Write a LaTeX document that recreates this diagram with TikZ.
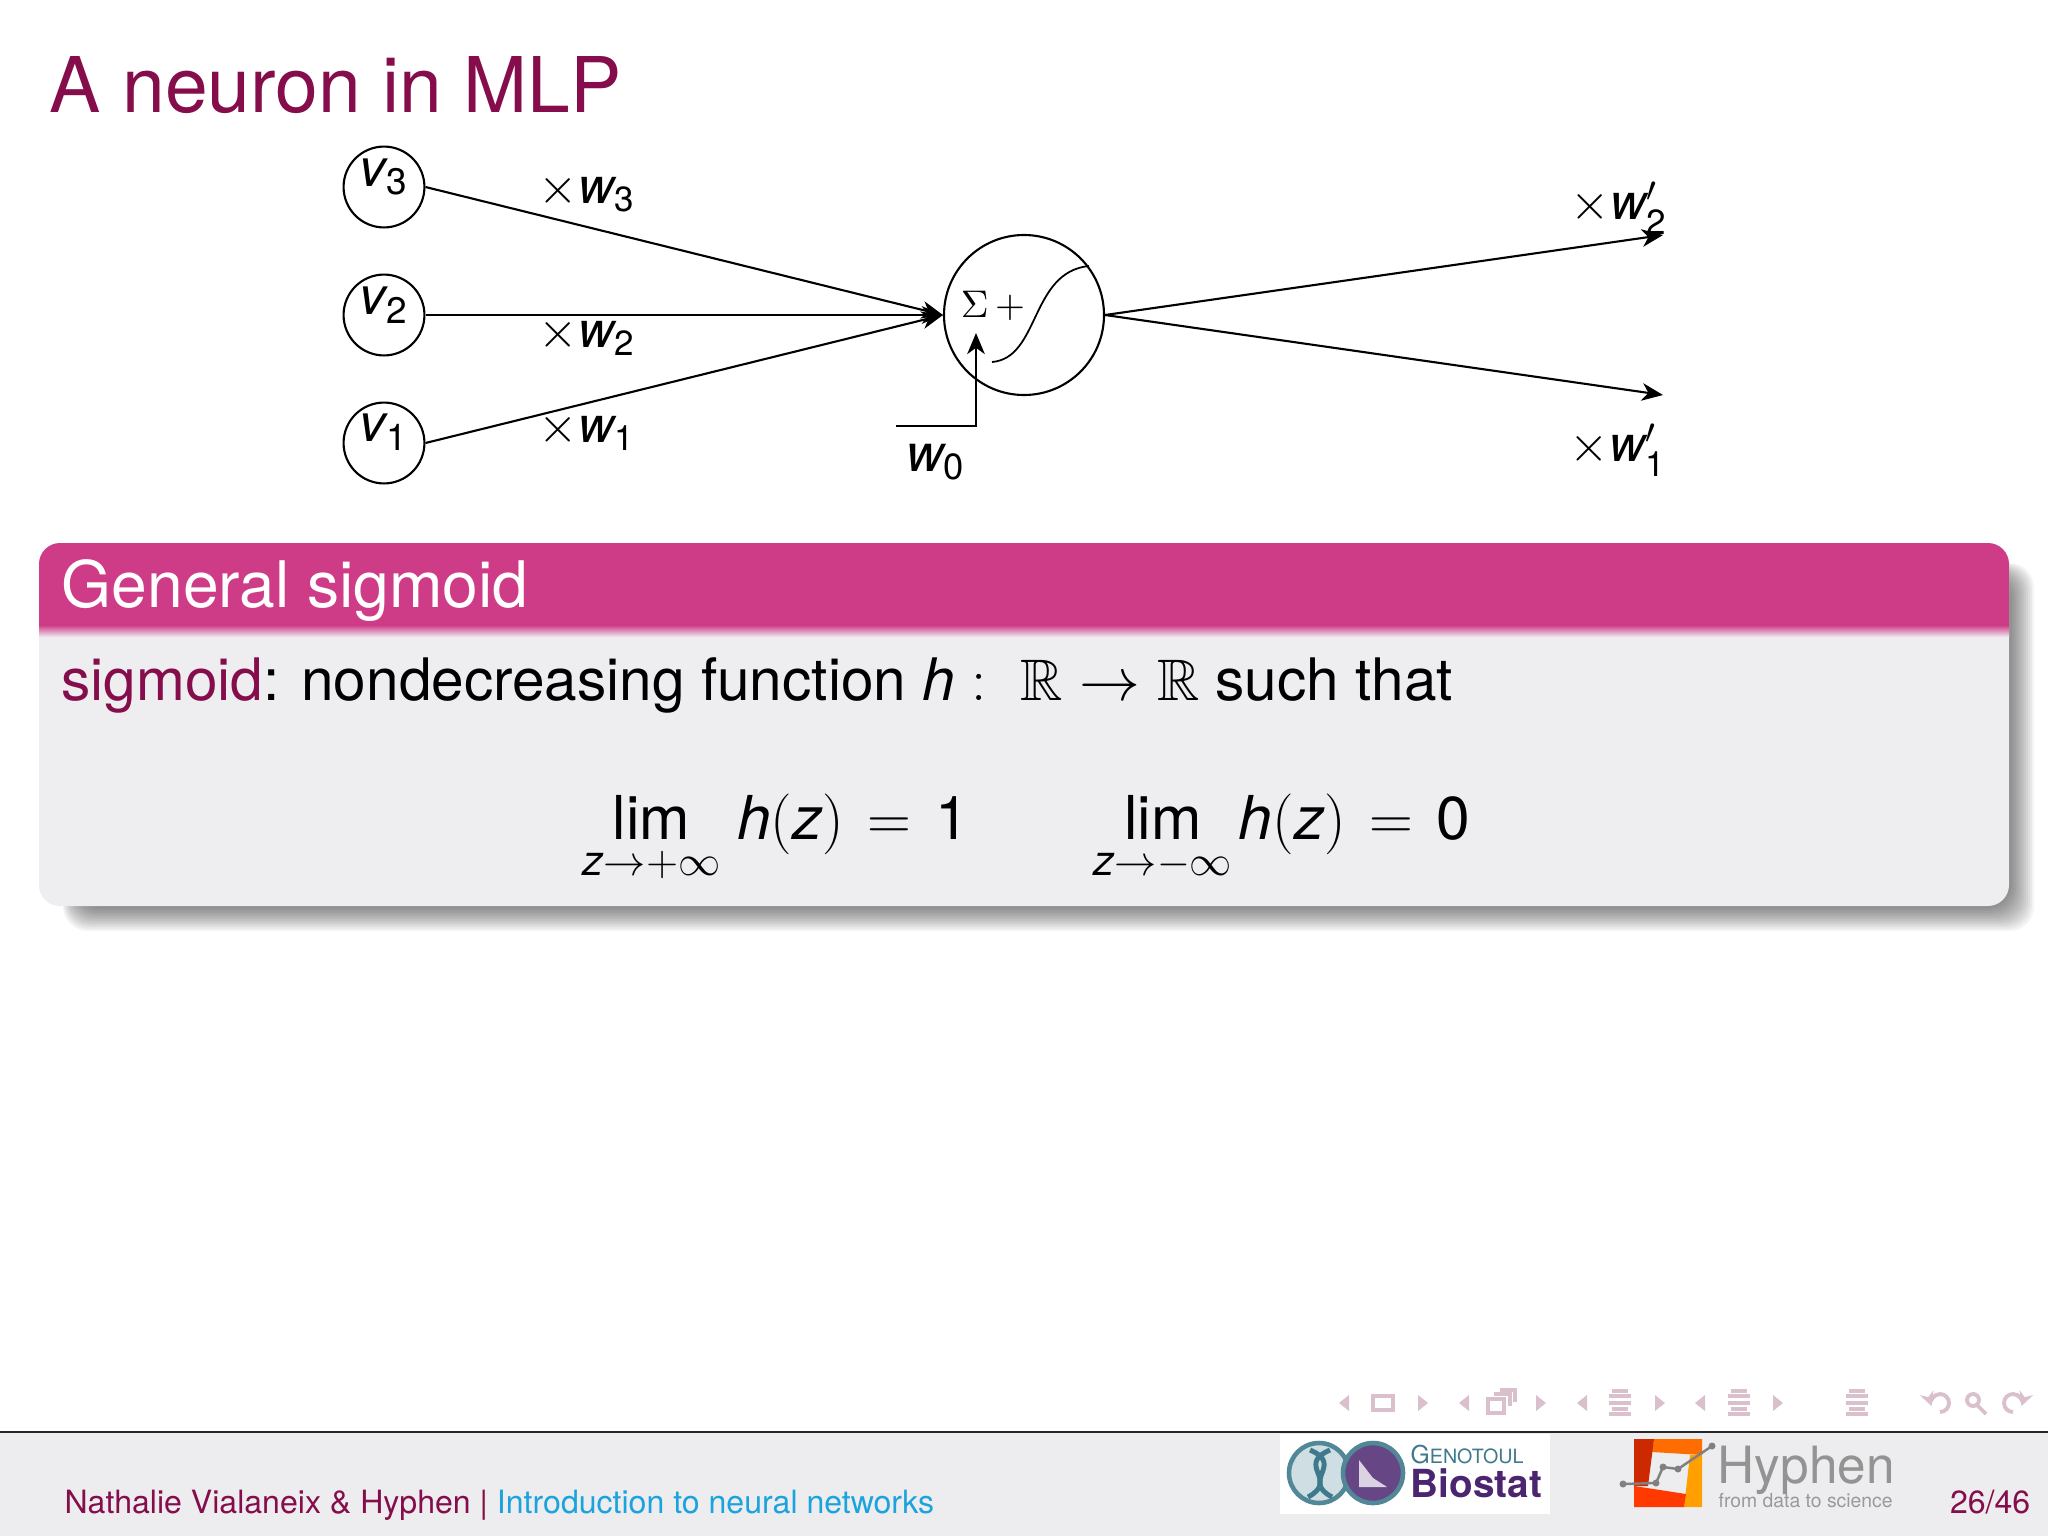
\documentclass[tikz,border=0pt]{standalone}
\usepackage{amsmath}
\usepackage{amssymb}
\usepackage{fontspec}
\setmainfont{TeX Gyre Heros}
\usepackage{tikz}
\usetikzlibrary{arrows.meta}

\definecolor{titlecol}{HTML}{850D4B}
\definecolor{headcol}{HTML}{CE3C88}
\definecolor{bodycol}{HTML}{EEEDF0}
\definecolor{footcol}{HTML}{EDEDEF}
\definecolor{linkcol}{HTML}{1AA3DD}
\definecolor{navcol}{HTML}{D9C0CC}
\definecolor{tealcol}{HTML}{3E7A8C}
\definecolor{purplecol}{HTML}{4B2570}

\tikzset{
  neuron/.style={draw=black, circle, line width=0.6pt, minimum size=23pt, inner sep=0pt},
  lab/.style={inner sep=0pt, font=\fontsize{14.2}{17}\selectfont},
  txt/.style={inner sep=0pt, anchor=base west},
  link/.style={draw=black, line width=0.6pt, -{Stealth[length=6pt,width=5pt,inset=1.8pt]}},
  navtri/.style={fill=navcol, draw=none},
  navline/.style={navcol, line width=1.1pt},
}

\begin{document}
\begin{tikzpicture}[x=0.01cm, y=-0.01cm]
\useasboundingbox (0,0) rectangle (2048,1536);
\fill[white] (0,0) rectangle (2048,1536);
% title
\node[txt, text=titlecol, font=\fontsize{21.85}{26}\selectfont] (Title) at (49,112) {A neuron in MLP};
% network
\node[neuron] (V3) at (384,187) {};
\node[neuron] (V2) at (384,315) {};
\node[neuron] (V1) at (384,443) {};
\node[neuron, minimum size=45.5pt] (S) at (1024,315) {};
\node[lab, font=\fontsize{15}{18}\selectfont] (V3L) at (384,177) {$\mathit{v}_{\mathrm{3}}$};
\node[lab, font=\fontsize{15}{18}\selectfont] (V2L) at (384,305) {$\mathit{v}_{\mathrm{2}}$};
\node[lab, font=\fontsize{15}{18}\selectfont] (V1L) at (384,432) {$\mathit{v}_{\mathrm{1}}$};
\node[lab] (W3L) at (587,193) {$\times\mathit{w}_{\mathrm{3}}$};
\node[lab] (W2L) at (587,337) {$\times\mathit{w}_{\mathrm{2}}$};
\node[lab] (W1L) at (587,432) {$\times\mathit{w}_{\mathrm{1}}$};
\node[lab, font=\fontsize{14.8}{18}\selectfont] (W0L) at (936,462) {$\mathit{w}_{\mathrm{0}}$};
\node[lab] (OW2L) at (1619,208) {$\times\mathit{w}'_{\mathrm{2}}$};
\node[lab] (OW1L) at (1618,450) {$\times\mathit{w}'_{\mathrm{1}}$};
\node[inner sep=0pt, font=\fontsize{10.7}{13}\selectfont] (SL) at (993,306) {$\Sigma\,+$};
\coordinate (O2) at (1663,235);
\coordinate (O1) at (1663,395);
\coordinate (W0a) at (896,426);
\coordinate (W0b) at (976,426);
\coordinate (W0c) at (976,333);
\draw[link] (V3.east) -- (S.west);
\draw[link] (V2.east) -- (S.west);
\draw[link] (V1.east) -- (S.west);
\draw[link] (S.east) -- (O2);
\draw[link] (S.east) -- (O1);
\draw[link] (W0a) -- (W0b) -- (W0c);
\coordinate (Sa) at (992,362);
\coordinate (Sb) at (1089,266);
\draw[line width=0.5pt] (Sa) .. controls (1040,358) and (1030,272) .. (Sb);
% block
\foreach \i in {0,...,12}
  \fill[black, opacity=0.045, rounded corners=7pt] (75-\i,575-\i) rectangle (2010+2*\i,907+2*\i);
\fill[bodycol, rounded corners=6pt] (39,543) rectangle (2009,906);
\begin{scope}
\clip (39,543) rectangle (2009,626);
\fill[headcol, rounded corners=6pt] (39,543) rectangle (2009,700);
\end{scope}
\shade[top color=headcol, bottom color=bodycol] (39,625) rectangle (2009,637);
\node[txt, text=white, font=\fontsize{18.25}{22}\selectfont] (BlockT) at (61,607) {General sigmoid};
\node[txt, font=\fontsize{16.65}{20}\selectfont] (BlockL) at (61,700) {\textcolor{titlecol}{sigmoid}: nondecreasing function $\mathit{h}:\ \mathbb{R}\to\mathbb{R}$ such that};
\node[txt, font=\fontsize{17.2}{20}\selectfont] (Lim1) at (582,839) {$\displaystyle\lim_{\mathit{z}\to+\infty}\mkern2mu\mathit{h}(\mathit{z})\mkern2mu=\mkern2mu\mathrm{1}$};
\node[txt, font=\fontsize{17.2}{20}\selectfont] (Lim2) at (1093,839) {$\displaystyle\lim_{\mathit{z}\to-\infty}\mkern-1mu\mathit{h}(\mathit{z})\mkern2mu=\mkern2mu\mathrm{0}$};
% navigation
\foreach \x in {1344,1464,1582,1700}
  \fill[navtri] (\x-5,1403) -- (\x+5,1395) -- (\x+5,1411) -- cycle;
\foreach \x in {1423,1541,1660,1778}
  \fill[navtri] (\x+5,1403) -- (\x-5,1395) -- (\x-5,1411) -- cycle;
\draw[navline] (1373,1396) rectangle (1393,1410);
\draw[navline] (1488,1399) rectangle (1504,1413);
\draw[navline] (1494,1394) -- (1510,1394) -- (1510,1406);
\draw[navline] (1500,1390) -- (1515,1390) -- (1515,1402);
\foreach \x in {1620,1739,1857}
  \foreach \y/\w in {1391/8,1396/11,1403/11,1409/8,1414/11}
    \draw[navline] (\x-\w,\y) -- (\x+\w,\y);
\draw[navline, -{Stealth[length=4pt,width=4pt]}] (1940,1412) arc (90:-200:9);
\draw[navline] (1973,1400) circle (6);
\draw[navline] (1977,1405) -- (1986,1414);
\draw[navline, -{Stealth[length=4pt,width=4pt]}] (2013,1412) arc (90:380:9);
% footer
\fill[footcol] (0,1432) rectangle (2048,1536);
\draw[black!85, line width=0.5pt] (0,1432) -- (2048,1432);
\node[txt, text=titlecol, font=\fontsize{9.12}{11}\selectfont] (FootL) at (64,1513) {Nathalie Vialaneix \& Hyphen | \textcolor{linkcol}{Introduction to neural networks}};
\node[txt, text=titlecol, font=\fontsize{9.12}{11}\selectfont, anchor=base east] (Page) at (2031,1513) {26/46};
% logos
\fill[white] (1280,1434) rectangle (1550,1514);
\draw[tealcol!90, line width=1.3pt, fill=tealcol!25] (1319,1473) circle (30);
\draw[tealcol!90, line width=1.3pt, fill=purplecol!85] (1373,1473) circle (30);
\draw[tealcol, line width=1.4pt] (1330,1450) .. controls (1295,1465) and (1340,1480) .. (1308,1497);
\draw[tealcol, line width=1.4pt] (1310,1450) .. controls (1345,1465) and (1300,1480) .. (1332,1497);
\fill[white!80!purplecol] (1359,1487) -- (1359,1460) -- (1373,1478) -- (1387,1487) -- cycle;
\node[txt, text=tealcol, font=\fontsize{7}{8}\selectfont] (Geno) at (1410,1463) {G\fontsize{5.6}{7}\selectfont ENOTOUL};
\node[txt, text=purplecol, font=\fontsize{11}{13}\selectfont\bfseries] (Bio) at (1410,1497) {Biostat};
\fill[orange!85!red] (1654,1439) -- (1702,1439) -- (1702,1455) -- (1652,1452) -- cycle;
\fill[red!60!orange!80!black] (1634,1439) -- (1654,1439) -- (1648,1486) -- (1634,1486) -- cycle;
\fill[orange!75!yellow] (1690,1455) -- (1702,1455) -- (1702,1507) -- (1684,1507) -- cycle;
\fill[red!55!orange] (1634,1486) -- (1686,1494) -- (1684,1507) -- (1634,1507) -- cycle;
\draw[gray, line width=0.7pt] (1623,1484) -- (1656,1483) -- (1663,1467) -- (1678,1469) -- (1712,1446);
\foreach \x/\y in {1623/1484,1656/1483,1663/1467,1678/1469,1712/1446}
  \fill[gray] (\x,\y) circle (3.5);
\node[txt, text=gray!85, font=\fontsize{14.6}{17}\selectfont] (Hyp) at (1717,1483) {Hyphen};
\node[txt, text=gray!80, font=\fontsize{5.5}{7}\selectfont] (Hyp2) at (1718,1507) {from data to science};
\end{tikzpicture}
\end{document}
